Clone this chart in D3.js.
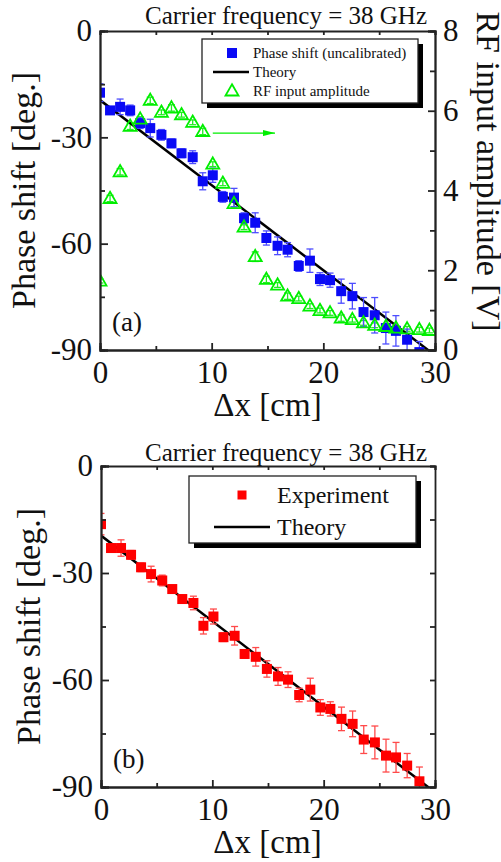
<!DOCTYPE html>
<html lang="en">
<head>
<meta charset="utf-8" />
<title>Phase shift vs displacement</title>
<script src="https://cdn.jsdelivr.net/npm/d3@7"></script>
<style>
body { margin:0; background:#fff; }
svg text { font-family:"Liberation Serif","Times New Roman",serif; fill:#111; }
.axis path, .axis line { stroke:#222; stroke-width:1.8; }
</style>
</head>
<body>
<svg id="chart" width="501" height="862"></svg>
<script type="text/javascript">
// positions along the line [cm]
var xPos = [0, 0.9, 1.8, 2.7, 3.6, 4.5, 5.5, 6.4, 7.3, 8.3, 9.2, 10.1, 11.0, 12.0, 12.9, 13.9,
            14.9, 15.9, 16.8, 17.8, 18.8, 19.7, 20.6, 21.6, 22.6, 23.6, 24.6, 25.6, 26.5, 27.5, 28.6];

// (a) uncalibrated phase shift [deg.]
var phaseA = [-17.4, -22.4, -21.4, -22.4, -26.0, -27.4, -29.3, -31.7, -34.5, -35.6, -42.4, -40.7,
              -46.8, -47.0, -52.8, -54.1, -58.4, -60.6, -61.7, -66.3, -64.8, -70.0, -70.3, -73.4,
              -74.8, -79.3, -80.2, -83.8, -84.6, -87.1, -90.6];
var errA = [2.5, 1.0, 2.2, 1.5, 1.5, 2.5, 1.5, 1.2, 1.2, 1.8, 2.4, 2.0, 1.5, 2.6, 1.5, 2.8,
            2.0, 2.5, 2.0, 1.5, 3.3, 1.8, 2.0, 3.4, 3.6, 4.1, 5.0, 4.5, 4.3, 3.0, 3.0];

// (b) experiment [deg.]
var phaseB = [-16.3, -23.0, -23.0, -24.9, -28.4, -30.3, -32.1, -34.5, -37.3, -38.4, -44.8, -42.2,
              -48.0, -47.6, -52.7, -53.5, -56.9, -59.0, -59.9, -64.2, -62.7, -67.7, -68.1, -70.9,
              -72.3, -76.7, -77.5, -81.2, -81.7, -84.0, -88.4];
var errB = [3.0, 1.0, 2.3, 1.2, 1.2, 2.2, 1.5, 1.0, 1.0, 1.9, 2.3, 2.1, 1.2, 2.6, 1.2, 2.6,
            2.3, 2.5, 2.2, 1.9, 3.2, 2.2, 2.0, 3.3, 3.6, 3.9, 4.6, 4.6, 4.2, 3.4, 4.0];

// RF input amplitude [V]
var rfX = [0, 0.9, 1.8, 2.7, 3.6, 4.5, 5.5, 6.4, 7.3, 8.3, 9.2, 10.1, 11.0, 12.0, 12.9, 13.9,
           14.9, 15.9, 16.8, 17.8, 18.8, 19.7, 20.6, 21.6, 22.6, 23.6, 24.6, 25.6, 26.5, 27.5, 28.6, 29.5];
var rfAmp = [1.73, 3.80, 4.47, 5.61, 5.79, 6.26, 5.96, 6.07, 5.90, 5.71, 5.48, 4.66, 4.18, 3.67, 3.08, 2.34,
             1.77, 1.63, 1.35, 1.29, 1.10, 0.99, 0.93, 0.80, 0.76, 0.68, 0.62, 0.59, 0.55, 0.53, 0.51, 0.49];
var rfErr = [0.05, 0.08, 0.08, 0.08, 0.06, 0.08, 0.06, 0.08, 0.06, 0.06, 0.08, 0.06, 0.06, 0.08, 0.06, 0.12,
             0.08, 0.06, 0.08, 0.06, 0.06, 0.06, 0.06, 0.08, 0.06, 0.06, 0.06, 0.06, 0.06, 0.06, 0.06, 0.06];

// theory line
var theoryX = [0, 30];
var theoryY = [-19.5, -91.5];

var xTicks = [0, 10, 20, 30], xMinor = [5, 15, 25];
var yTicks = [0, -30, -60, -90], yMinor = [-15, -45, -75];
var vTicks = [0, 2, 4, 6, 8], vMinor = [1, 3, 5, 7];

var svg = d3.select("#chart");
var fmt = function (d) { return String(d); };

function frame (g, x, y, id) {
  var r = x.range(), t = y.range();
  g.append("clipPath").attr("id", id).append("rect")
    .attr("x", r[0]).attr("y", t[1]).attr("width", r[1]-r[0]).attr("height", t[0]-t[1]);
  // bottom
  g.append("g").attr("class","axis").attr("transform","translate(0,"+t[0]+")")
    .call(d3.axisBottom(x).tickValues(xMinor).tickSize(-4).tickFormat(""));
  g.append("g").attr("class","axis").attr("transform","translate(0,"+t[0]+")")
    .call(d3.axisBottom(x).tickValues(xTicks).tickSize(-7).tickPadding(11).tickFormat(fmt))
    .call(a => a.selectAll("text").attr("font-size", 31));
  // top
  g.append("g").attr("class","axis").attr("transform","translate(0,"+t[1]+")")
    .call(d3.axisTop(x).tickValues(xTicks.concat(xMinor)).tickSize(-4).tickFormat(""));
  // left
  g.append("g").attr("class","axis").attr("transform","translate("+r[0]+",0)")
    .call(d3.axisLeft(y).tickValues(yMinor).tickSize(-5).tickFormat(""));
  g.append("g").attr("class","axis").attr("transform","translate("+r[0]+",0)")
    .call(d3.axisLeft(y).tickValues(yTicks).tickSize(-8).tickPadding(8).tickFormat(fmt))
    .call(a => a.selectAll("text").attr("font-size", 31));
  g.selectAll(".axis .domain").attr("stroke-width", 2);
}

function errorBars (g, x, y, xs, ys, es, color, cap) {
  var gg = g.append("g").attr("stroke", color).attr("stroke-width", 1.3).attr("fill", "none");
  xs.forEach(function (xv, i) {
    var cx = x(xv), y0 = y(ys[i] - es[i]), y1 = y(ys[i] + es[i]);
    gg.append("line").attr("x1", cx).attr("x2", cx).attr("y1", y0).attr("y2", y1);
    gg.append("line").attr("x1", cx-cap).attr("x2", cx+cap).attr("y1", y0).attr("y2", y0);
    gg.append("line").attr("x1", cx-cap).attr("x2", cx+cap).attr("y1", y1).attr("y2", y1);
  });
}

function squares (g, x, y, xs, ys, color, s) {
  g.append("g").selectAll("rect").data(xs).join("rect")
    .attr("x", (d) => x(d) - s/2).attr("y", (d, i) => y(ys[i]) - s/2)
    .attr("width", s).attr("height", s).attr("fill", color);
}

function theoryLine (g, x, y) {
  g.append("path")
    .datum(theoryX.map((d, i) => [d, theoryY[i]]))
    .attr("d", d3.line().x((d) => x(d[0])).y((d) => y(d[1])))
    .attr("stroke", "#000").attr("stroke-width", 2.5).attr("fill", "none");
}

function tri (cx, cy, s) {
  var h = s * 0.87;
  return "M" + cx + "," + (cy - h*0.6) + "L" + (cx + s/2) + "," + (cy + h*0.4) + "L" + (cx - s/2) + "," + (cy + h*0.4) + "Z";
}

function legend (g, x0, y0, w, h, rows, fs, sym) {
  g.append("rect").attr("x", x0+5).attr("y", y0+5).attr("width", w).attr("height", h).attr("fill", "#000");
  g.append("rect").attr("x", x0).attr("y", y0).attr("width", w).attr("height", h)
    .attr("fill", "#fff").attr("stroke", "#222").attr("stroke-width", 1.3);
  rows.forEach(function (r) {
    sym(r);
    g.append("text").attr("x", r.tx).attr("y", r.y).attr("dy", "0.35em")
      .attr("font-size", fs).text(r.label);
  });
}

// ---------- panel (a) ----------
var xA = d3.scaleLinear([0, 30], [100, 435]);
var yA = d3.scaleLinear([-90, 0], [350, 31]);
var vA = d3.scaleLinear([0, 8], [350, 31]);
var gA = svg.append("g");

var plotA = gA.append("g").attr("clip-path", "url(#clipA)");
errorBars(plotA, xA, vA, rfX, rfAmp, rfErr, "#22ee22", 3.5);
theoryLine(plotA, xA, yA);
errorBars(plotA, xA, yA, xPos, phaseA, errA, "#4d4dff", 3.5);
squares(plotA, xA, yA, xPos, phaseA, "#0a0af5", 10);
plotA.append("g").selectAll("path").data(rfX).join("path")
  .attr("d", (d, i) => tri(xA(d), vA(rfAmp[i]), 13))
  .attr("fill", "none").attr("stroke", "#00ee00").attr("stroke-width", 1.8);

frame(gA, xA, yA, "clipA");
gA.append("g").attr("class","axis").attr("transform","translate(435,0)")
  .call(d3.axisRight(vA).tickValues(vMinor).tickSize(-5).tickFormat(""));
gA.append("g").attr("class","axis").attr("transform","translate(435,0)")
  .call(d3.axisRight(vA).tickValues(vTicks).tickSize(-7).tickPadding(8).tickFormat(fmt))
  .call(a => a.selectAll("text").attr("font-size", 31));
gA.selectAll(".axis .domain").attr("stroke-width", 2);

// arrow pointing to the right axis
svg.append("defs").append("marker").attr("id", "arr")
  .attr("viewBox", "0 0 12 6").attr("refX", 12).attr("refY", 3)
  .attr("markerWidth", 12).attr("markerHeight", 6).attr("markerUnits", "userSpaceOnUse")
  .attr("orient", "auto")
  .append("path").attr("d", "M0,0L12,3L0,6Z").attr("fill", "#00ee00");
gA.append("line").attr("x1", xA(10.1)).attr("x2", xA(15.67)).attr("y1", vA(5.44)).attr("y2", vA(5.44))
  .attr("stroke", "#00ee00").attr("stroke-width", 1.3).attr("marker-end", "url(#arr)");

legend(gA, 202, 39, 216, 64, [
  {y: 53, tx: 253, label: "Phase shift (uncalibrated)", k: "sq"},
  {y: 72, tx: 253, label: "Theory", k: "ln"},
  {y: 91, tx: 253, label: "RF input amplitude", k: "tr"}
], 15, function (r) {
  if (r.k == "sq") gA.append("rect").attr("x", 227).attr("y", r.y-5).attr("width", 10).attr("height", 10).attr("fill", "#0a0af5");
  if (r.k == "ln") gA.append("line").attr("x1", 213).attr("x2", 249).attr("y1", r.y).attr("y2", r.y).attr("stroke", "#000").attr("stroke-width", 2.5);
  if (r.k == "tr") gA.append("path").attr("d", tri(232, r.y, 13)).attr("fill", "none").attr("stroke", "#00ee00").attr("stroke-width", 1.8);
});

gA.append("text").attr("x", 427).attr("y", 24).attr("text-anchor", "end").attr("font-size", 25)
  .text("Carrier frequency = 38 GHz");
gA.append("text").attr("x", 112).attr("y", 331).attr("font-size", 27).text("(a)");
gA.append("text").attr("transform", "translate(35,190.5) rotate(-90)").attr("text-anchor", "middle")
  .attr("font-size", 34).text("Phase shift [deg.]");
gA.append("text").attr("transform", "translate(477,171.5) rotate(90)").attr("text-anchor", "middle")
  .attr("font-size", 34).text("RF input amplitude [V]");
gA.append("text").attr("x", 267.5).attr("y", 416).attr("text-anchor", "middle")
  .attr("font-size", 33).text("\u0394x [cm]");

// ---------- panel (b) ----------
var xB = d3.scaleLinear([0, 30], [101, 435]);
var yB = d3.scaleLinear([-90, 0], [787, 466]);
var gB = svg.append("g");

var plotB = gB.append("g").attr("clip-path", "url(#clipB)");
theoryLine(plotB, xB, yB);
errorBars(plotB, xB, yB, xPos, phaseB, errB, "#ff4a4a", 3.5);
squares(plotB, xB, yB, xPos, phaseB, "#ff0000", 10);

frame(gB, xB, yB, "clipB");
gB.append("g").attr("class","axis").attr("transform","translate(435,0)")
  .call(d3.axisRight(yB).tickValues(yTicks.concat(yMinor)).tickSize(-5).tickFormat(""));
gB.selectAll(".axis .domain").attr("stroke-width", 2);

legend(gB, 189, 476, 227, 67, [
  {y: 495, tx: 277, label: "Experiment", k: "sq"},
  {y: 527, tx: 277, label: "Theory", k: "ln"}
], 24, function (r) {
  if (r.k == "sq") gB.append("rect").attr("x", 237.5).attr("y", r.y-4.5).attr("width", 9).attr("height", 9).attr("fill", "#ff0000");
  if (r.k == "ln") gB.append("line").attr("x1", 214).attr("x2", 270).attr("y1", r.y).attr("y2", r.y).attr("stroke", "#000").attr("stroke-width", 2.5);
});

gB.append("text").attr("x", 427).attr("y", 461).attr("text-anchor", "end").attr("font-size", 25)
  .text("Carrier frequency = 38 GHz");
gB.append("text").attr("x", 113).attr("y", 768).attr("font-size", 27).text("(b)");
gB.append("text").attr("transform", "translate(40,626.5) rotate(-90)").attr("text-anchor", "middle")
  .attr("font-size", 34).text("Phase shift [deg.]");
gB.append("text").attr("x", 267.5).attr("y", 853).attr("text-anchor", "middle")
  .attr("font-size", 33).text("\u0394x [cm]");
</script>
</body>
</html>
